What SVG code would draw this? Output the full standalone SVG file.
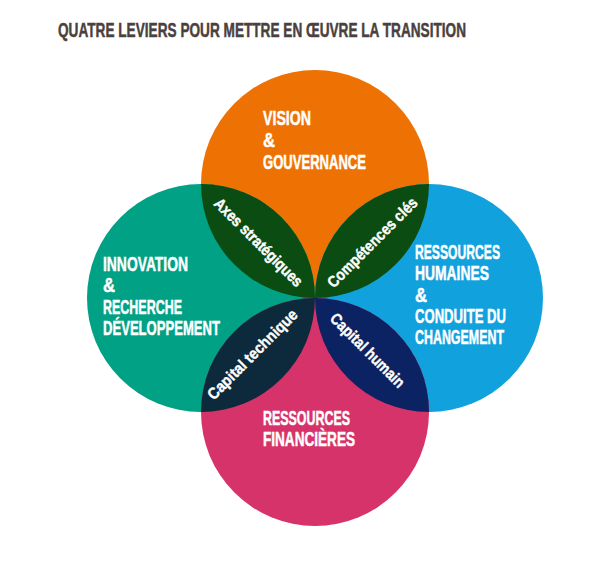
<svg xmlns="http://www.w3.org/2000/svg" width="607" height="567" viewBox="0 0 607 567">
<style>
.title{font-family:"Liberation Sans",Arial,sans-serif;font-weight:bold;font-size:21px;fill:#4b3f40;stroke:#4b3f40;stroke-width:0.5}
.lbl{font-family:"Liberation Sans",Arial,sans-serif;font-weight:bold;font-size:20px;fill:#ffffff;stroke:#ffffff;stroke-width:0.5}
.lens{font-family:"Liberation Sans",Arial,sans-serif;font-weight:bold;font-size:16px;fill:#ffffff;stroke:#ffffff;stroke-width:0.4;text-anchor:middle}
</style>
<rect width="607" height="567" fill="#ffffff"/>
<text class="title" x="58" y="37" textLength="408" lengthAdjust="spacingAndGlyphs">QUATRE LEVIERS POUR METTRE EN ŒUVRE LA TRANSITION</text>

<g id="vision">
<circle cx="315" cy="184" r="114" fill="#ee7203"/>
</g>
<g id="innovation">
<circle cx="201" cy="298" r="114" fill="#00a184"/>
</g>
<g id="ressources-humaines">
<circle cx="429" cy="298" r="114" fill="#11a1dd"/>
</g>
<g id="ressources-financieres">
<circle cx="315" cy="412" r="114" fill="#d7336b"/>
</g>

<g id="lens-axes">
<path d="M201,184 A114,114 0 0 0 315,298 A114,114 0 0 0 201,184 Z" fill="#0b4c12"/>
<text class="lens" transform="translate(259,242) rotate(45)" x="0" y="6" textLength="118" lengthAdjust="spacingAndGlyphs">Axes stratégiques</text>
</g>
<g id="lens-competences">
<path d="M315,298 A114,114 0 0 0 429,184 A114,114 0 0 0 315,298 Z" fill="#0b4c12"/>
<text class="lens" transform="translate(372,242) rotate(-45)" x="0" y="6" textLength="120" lengthAdjust="spacingAndGlyphs">Compétences clés</text>
</g>
<g id="lens-capital-technique">
<path d="M315,298 A114,114 0 0 1 201,412 A114,114 0 0 1 315,298 Z" fill="#0c2a3b"/>
<text class="lens" transform="translate(252,354) rotate(-45)" x="0" y="6" textLength="120" lengthAdjust="spacingAndGlyphs">Capital technique</text>
</g>
<g id="lens-capital-humain">
<path d="M315,298 A114,114 0 0 1 429,412 A114,114 0 0 1 315,298 Z" fill="#0c2363"/>
<text class="lens" transform="translate(368,350) rotate(45)" x="0" y="6" textLength="98" lengthAdjust="spacingAndGlyphs">Capital humain</text>
</g>

<g id="labels-vision">
<text class="lbl" x="263" y="125" textLength="48" lengthAdjust="spacingAndGlyphs">VISION</text>
<text class="lbl" x="263" y="147" textLength="12" lengthAdjust="spacingAndGlyphs">&amp;</text>
<text class="lbl" x="263" y="169" textLength="103" lengthAdjust="spacingAndGlyphs">GOUVERNANCE</text>
</g>
<g id="labels-innovation">
<text class="lbl" x="103" y="271" textLength="85" lengthAdjust="spacingAndGlyphs">INNOVATION</text>
<text class="lbl" x="103" y="292" textLength="12" lengthAdjust="spacingAndGlyphs">&amp;</text>
<text class="lbl" x="103" y="314" textLength="79" lengthAdjust="spacingAndGlyphs">RECHERCHE</text>
<text class="lbl" x="103" y="335" textLength="117" lengthAdjust="spacingAndGlyphs">DÉVELOPPEMENT</text>
</g>
<g id="labels-rh">
<text class="lbl" x="415" y="259" textLength="85" lengthAdjust="spacingAndGlyphs">RESSOURCES</text>
<text class="lbl" x="415" y="280" textLength="74" lengthAdjust="spacingAndGlyphs">HUMAINES</text>
<text class="lbl" x="415" y="302" textLength="12" lengthAdjust="spacingAndGlyphs">&amp;</text>
<text class="lbl" x="415" y="323" textLength="91" lengthAdjust="spacingAndGlyphs">CONDUITE DU</text>
<text class="lbl" x="415" y="344" textLength="89" lengthAdjust="spacingAndGlyphs">CHANGEMENT</text>
</g>
<g id="labels-rf">
<text class="lbl" x="263" y="425" textLength="87" lengthAdjust="spacingAndGlyphs">RESSOURCES</text>
<text class="lbl" x="263" y="446" textLength="92" lengthAdjust="spacingAndGlyphs">FINANCIÈRES</text>
</g>
<g id="connectors"></g>
</svg>
